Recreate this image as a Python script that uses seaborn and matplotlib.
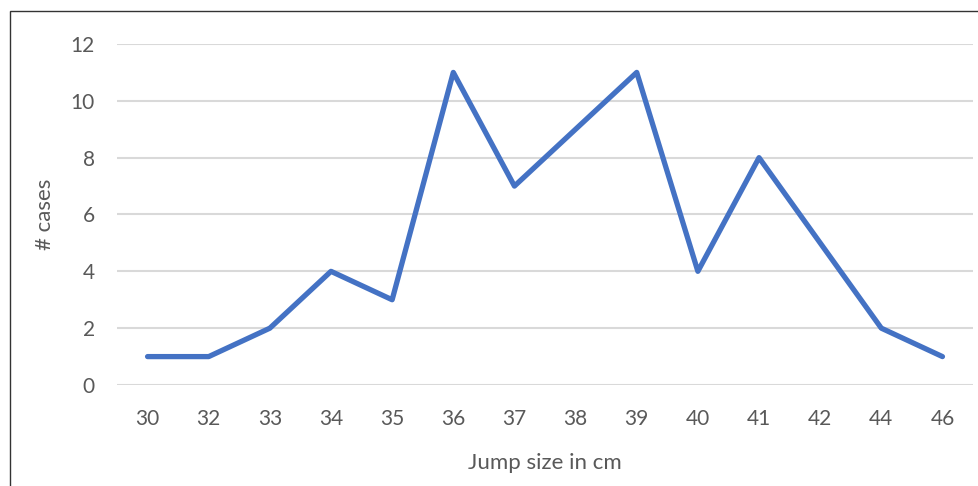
import matplotlib
matplotlib.use("Agg")
import matplotlib.pyplot as plt
import seaborn as sns
import pandas as pd
from matplotlib.patches import Rectangle

# data
jump_sizes = ["30", "32", "33", "34", "35", "36", "37", "38", "39", "40", "41", "42", "44", "46"]
cases = [1, 1, 2, 4, 3, 11, 7, 9, 11, 4, 8, 5, 2, 1]
y_ticks = [0, 2, 4, 6, 8, 10, 12]

df = pd.DataFrame({"pos": range(len(jump_sizes)), "cases": cases})

sns.set_style("white")
plt.rcParams["font.family"] = ["Lato", "DejaVu Sans"]

fig = plt.figure(figsize=(9.79, 4.86), dpi=100)
ax = fig.add_axes([0.1195, 0.2078, 0.8744, 0.7017])

sns.lineplot(data=df, x="pos", y="cases", ax=ax, color="#4472C4", linewidth=3.8,
             solid_capstyle="round")

ax.set_xlim(-0.5, len(jump_sizes) - 0.5)
ax.set_ylim(0, 12)
ax.set_yticks(y_ticks)
ax.set_xticks(range(len(jump_sizes)))
ax.set_xticklabels(jump_sizes)
ax.yaxis.grid(True, color="#D9D9D9", linewidth=1.5)
ax.set_axisbelow(True)
for s in ax.spines.values():
    s.set_visible(False)
ax.tick_params(axis="both", length=0, labelsize=15, colors="#595959")
ax.tick_params(axis="x", pad=17)
ax.tick_params(axis="y", pad=16)

ax.set_xlabel("Jump size in cm", fontsize=16, color="#595959")
ax.set_ylabel("# cases", fontsize=16, color="#595959")
ax.xaxis.set_label_coords(0.5, -0.2)
ax.yaxis.set_label_coords(-0.072, 0.5)

# outer frame (left and top edges show, the rest is cut off)
fig.patches.append(Rectangle((9.5 / 979, -0.1), 1.0, 1.1 - 11.5 / 486,
                             transform=fig.transFigure, fill=False,
                             edgecolor="#333333", linewidth=1))

fig.savefig("out.png", dpi=100)
